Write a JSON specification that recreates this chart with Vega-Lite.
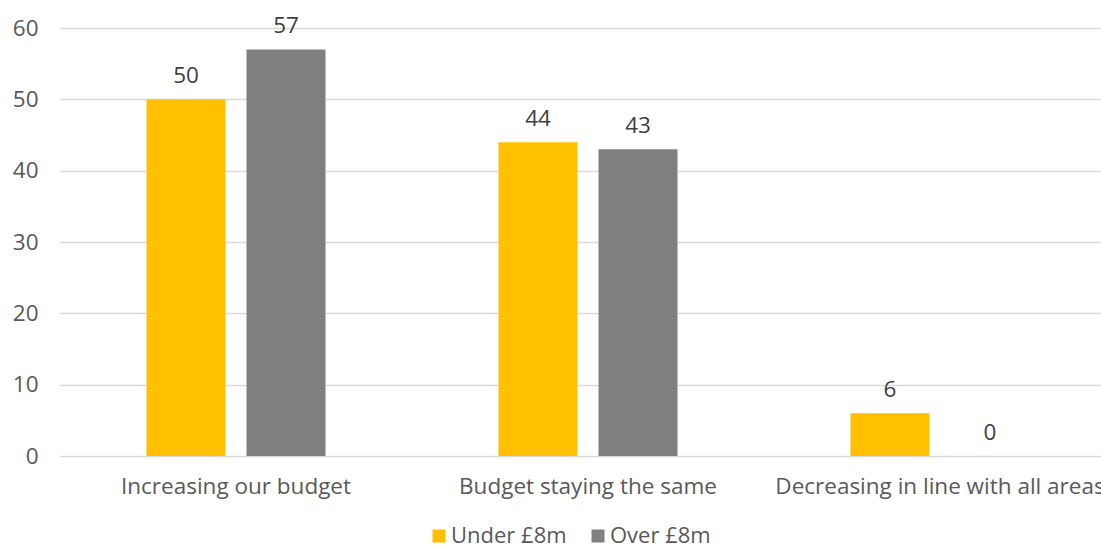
{
  "$schema": "https://vega.github.io/schema/vega-lite/v6.json",
  "autosize": "none",
  "width": 1041,
  "height": 428,
  "padding": {"left": 60, "top": 28, "right": 0, "bottom": 91},
  "background": "white",
  "config": {
    "view": {"stroke": null},
    "font": "Open Sans",
    "axis": {"labelFont": "Open Sans", "labelColor": "#595959", "labelFontSize": 22.5},
    "legend": {"labelFont": "Open Sans", "labelColor": "#595959", "labelFontSize": 22}
  },
  "data": {
    "values": [
      {"category": "Increasing our budget", "group": "Under £8m", "value": 50},
      {"category": "Increasing our budget", "group": "Over £8m", "value": 57},
      {"category": "Budget staying the same", "group": "Under £8m", "value": 44},
      {"category": "Budget staying the same", "group": "Over £8m", "value": 43},
      {"category": "Decreasing in line with all areas", "group": "Under £8m", "value": 6},
      {"category": "Decreasing in line with all areas", "group": "Over £8m", "value": 0}
    ]
  },
  "encoding": {
    "x": {
      "field": "category",
      "type": "nominal",
      "sort": null,
      "scale": {"range": [0, 1056], "paddingInner": 0, "paddingOuter": 0},
      "axis": {"title": null, "domain": false, "ticks": false, "labelAngle": 0, "labelPadding": 19, "labelLimit": 500, "labelOverlap": false, "labelBound": false, "labelFontSize": 22.5}
    },
    "xOffset": {
      "field": "group",
      "type": "nominal",
      "sort": ["Under £8m", "Over £8m"],
      "scale": {"paddingInner": 0.21, "paddingOuter": 0.865}
    },
    "y": {
      "field": "value",
      "type": "quantitative",
      "scale": {"domain": [0, 60], "nice": false},
      "axis": {"title": null, "domain": false, "ticks": false, "values": [0, 10, 20, 30, 40, 50, 60], "labelOverlap": false, "labelPadding": 22, "gridColor": "#d9d9d9", "gridWidth": 1.4}
    }
  },
  "layer": [
    {
      "mark": {"type": "bar"},
      "encoding": {
        "color": {
          "field": "group",
          "type": "nominal",
          "sort": ["Under £8m", "Over £8m"],
          "scale": {"domain": ["Under £8m", "Over £8m"], "range": ["#FFC000", "#808080"]},
          "legend": {
            "title": null,
            "orient": "none",
            "direction": "horizontal",
            "legendX": 368,
            "legendY": 497,
            "symbolType": "square",
            "symbolSize": 169,
            "symbolStrokeWidth": 0,
            "labelOffset": 1,
            "columnPadding": 20
          }
        }
      }
    },
    {
      "mark": {"type": "text", "baseline": "bottom", "dy": -11, "fontSize": 22.5, "color": "#404040", "font": "Open Sans"},
      "encoding": {
        "text": {"field": "value", "type": "quantitative"}
      }
    }
  ]
}
